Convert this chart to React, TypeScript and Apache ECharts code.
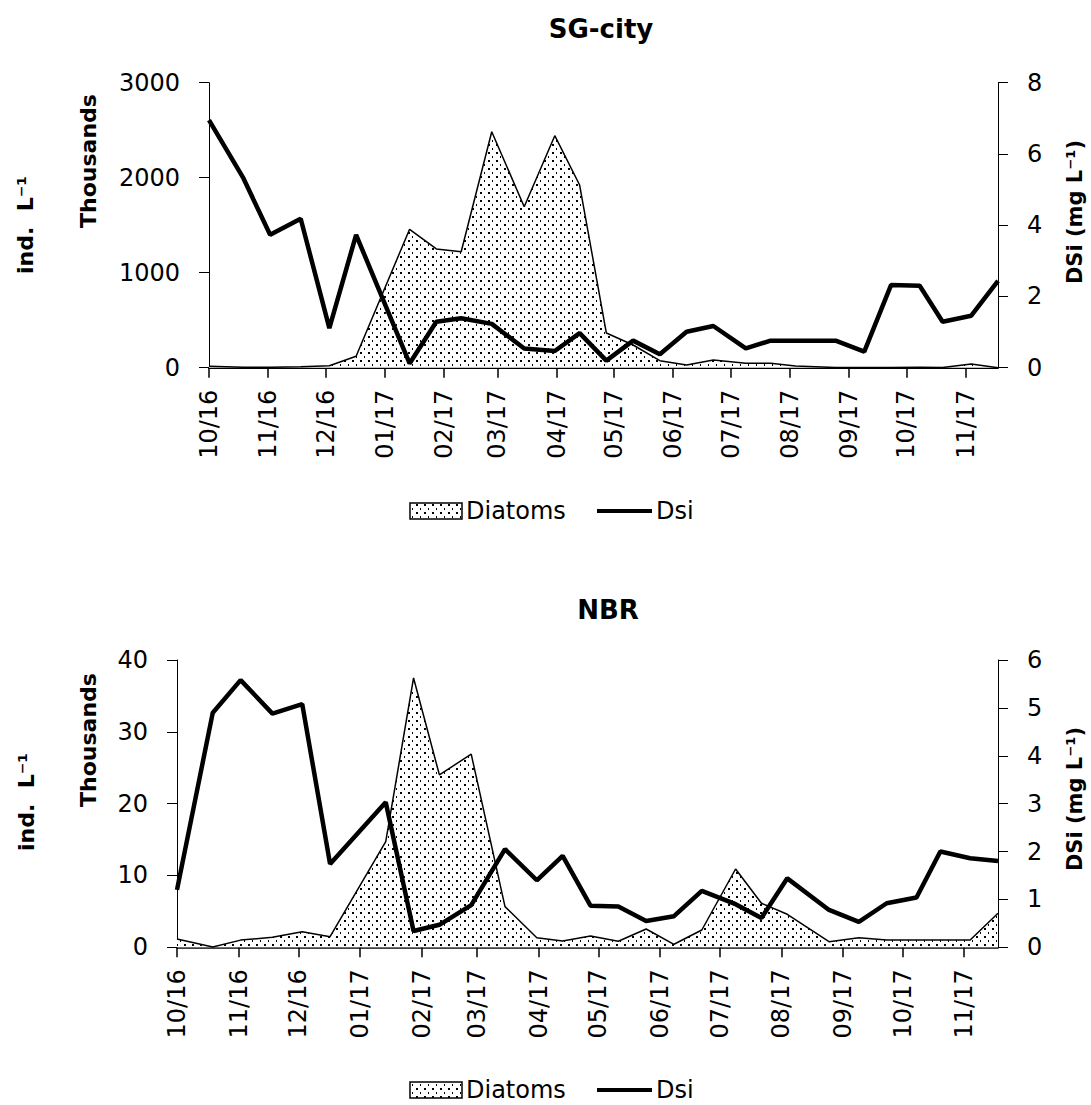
import React, { useEffect, useRef } from 'react';
import * as echarts from 'echarts';

// Sampling dates (shared by both stations)
const sampleDates = [
  '2016-10-01', '2016-10-19', '2016-11-02', '2016-11-18', '2016-12-03', '2016-12-17',
  '2017-01-14', '2017-01-28', '2017-02-10', '2017-02-26', '2017-03-15', '2017-03-31',
  '2017-04-13', '2017-04-27', '2017-05-11', '2017-05-25', '2017-06-08', '2017-06-22',
  '2017-07-09', '2017-07-22', '2017-08-04', '2017-08-25', '2017-09-09', '2017-09-23',
  '2017-10-08', '2017-10-20', '2017-11-04', '2017-11-18',
];

// SG-city: diatoms (thousand ind. L-1) and DSi (mg L-1)
const sgDiatoms = [15, 5, 5, 10, 20, 120, 1457, 1250, 1221, 2484, 1695, 2442, 1923, 365, 239, 74, 28, 81, 46, 46, 18, 3, 2, 2, 5, 3, 39, 0];
const sgDsi = [6.95, 5.32, 3.73, 4.18, 1.11, 3.73, 0.12, 1.29, 1.39, 1.23, 0.54, 0.47, 0.97, 0.2, 0.76, 0.38, 1.01, 1.17, 0.54, 0.76, 0.76, 0.76, 0.45, 2.32, 2.3, 1.29, 1.46, 2.44];

// NBR
const nbrDiatoms = [1.16, 0.05, 1.0, 1.39, 2.17, 1.48, 14.7, 37.5, 24.0, 26.9, 5.66, 1.34, 0.88, 1.57, 0.85, 2.55, 0.42, 2.41, 10.9, 6.13, 4.6, 0.78, 1.34, 1.02, 1.02, 1.02, 1.02, 4.73];
const nbrDsi = [1.2, 4.9, 5.58, 4.88, 5.08, 1.74, 3.03, 0.34, 0.47, 0.88, 2.05, 1.4, 1.91, 0.87, 0.85, 0.55, 0.65, 1.18, 0.9, 0.61, 1.44, 0.78, 0.53, 0.92, 1.04, 2.0, 1.86, 1.8];

// Axis ranges
const sgLeft = { min: 0, max: 3000, interval: 1000 };
const sgRight = { min: 0, max: 8, interval: 2 };
const nbrLeft = { min: 0, max: 40, interval: 10 };
const nbrRight = { min: 0, max: 6, interval: 1 };

const axisStart = '2016-10-01';
const axisEnd = '2017-11-18';

const FONT = '"DejaVu Sans", sans-serif';

function buildDays(start: string, end: string): string[] {
  const out: string[] = [];
  const s = new Date(start + 'T00:00:00Z').getTime();
  const e = new Date(end + 'T00:00:00Z').getTime();
  for (let t = s; t <= e; t += 86400000) {
    out.push(new Date(t).toISOString().slice(0, 10));
  }
  return out;
}

export default function App() {
  const ref = useRef<HTMLDivElement>(null);

  useEffect(() => {
    if (!ref.current) return;
    const chart = echarts.init(ref.current, undefined, { renderer: 'svg' });

    const c = document.createElement('canvas');
    c.width = 8;
    c.height = 8;
    const g = c.getContext('2d')!;
    g.fillStyle = '#fff';
    g.fillRect(0, 0, 8, 8);
    g.fillStyle = '#000';
    g.fillRect(0, 0, 2, 2);
    g.fillRect(4, 4, 1, 2);
    const pattern: any = { image: c.toDataURL(), repeat: 'repeat', imageWidth: 8, imageHeight: 8 };

    const days = buildDays(axisStart, axisEnd);
    const isMonthStart = (_i: number, v: string) => v.slice(8, 10) === '01';

    const makeX = (gridIndex: number, w: number) => ({
      type: 'category',
      gridIndex,
      data: days,
      boundaryGap: false,
      axisLine: { show: true, lineStyle: { color: '#000', width: w } },
      axisTick: { show: true, length: 10, interval: isMonthStart, lineStyle: { color: '#000', width: 1.5 } },
      axisLabel: {
        interval: isMonthStart,
        rotate: 90,
        margin: 22,
        fontSize: 24,
        fontFamily: FONT,
        color: '#000',
        formatter: (v: string) => v.slice(5, 7) + '/' + v.slice(2, 4),
      },
      splitLine: { show: false },
    });

    const makeY = (gridIndex: number, pos: string, r: any) => ({
      type: 'value',
      gridIndex,
      position: pos,
      min: r.min,
      max: r.max,
      interval: r.interval,
      axisLine: { show: true, lineStyle: { color: '#000', width: 1 } },
      axisTick: { show: true, length: 10, lineStyle: { color: '#000', width: 1 } },
      axisLabel: {
        fontSize: 24,
        fontFamily: FONT,
        color: '#000',
        margin: 29,
        formatter: (v: number) => String(v),
      },
      splitLine: { show: false },
    });

    const pairs = (vals: number[]) => sampleDates.map((d, i) => [d, vals[i]]);

    const areaSeries = (name: string, xi: number, yi: number, vals: number[]) => ({
      name,
      type: 'line',
      xAxisIndex: xi,
      yAxisIndex: yi,
      data: pairs(vals),
      symbol: 'none',
      lineStyle: { color: '#000', width: 1.5 },
      areaStyle: { color: pattern, opacity: 1 },
      z: 2,
    });
    const lineSeries = (name: string, xi: number, yi: number, vals: number[]) => ({
      name,
      type: 'line',
      xAxisIndex: xi,
      yAxisIndex: yi,
      data: pairs(vals),
      symbol: 'none',
      lineStyle: { color: '#000', width: 4.5 },
      z: 3,
    });

    const rotText = (text: string, x: number, y: number, size: number) => ({
      type: 'text',
      x,
      y,
      rotation: Math.PI / 2,
      style: {
        text,
        fontSize: size,
        fontWeight: 'bold',
        fontFamily: FONT,
        fill: '#000',
        align: 'center',
        verticalAlign: 'middle',
      },
    });

    const legend = (cy: number) => [
      {
        type: 'rect',
        shape: { x: 410, y: cy - 8, width: 52, height: 16 },
        style: { fill: pattern, stroke: '#000', lineWidth: 1.5 },
      },
      {
        type: 'text',
        x: 466,
        y: cy,
        style: { text: 'Diatoms', fontSize: 24, fontFamily: FONT, fill: '#000', align: 'left', verticalAlign: 'middle' },
      },
      {
        type: 'line',
        shape: { x1: 597, y1: cy, x2: 652, y2: cy },
        style: { stroke: '#000', lineWidth: 4 },
      },
      {
        type: 'text',
        x: 656,
        y: cy,
        style: { text: 'Dsi', fontSize: 24, fontFamily: FONT, fill: '#000', align: 'left', verticalAlign: 'middle' },
      },
    ];

    chart.setOption({
      animation: false,
      backgroundColor: '#fff',
      title: [
        {
          text: 'SG-city',
          left: 601,
          top: 29,
          textAlign: 'center',
          textVerticalAlign: 'middle',
          padding: 0,
          textStyle: { fontSize: 26, fontWeight: 'bold', fontFamily: FONT, color: '#000' },
        },
        {
          text: 'NBR',
          left: 608,
          top: 610,
          textAlign: 'center',
          textVerticalAlign: 'middle',
          padding: 0,
          textStyle: { fontSize: 26, fontWeight: 'bold', fontFamily: FONT, color: '#000' },
        },
      ],
      grid: [
        { left: 209, width: 789, top: 82.7, height: 285, containLabel: false },
        { left: 177, width: 821, top: 660, height: 287.3, containLabel: false },
      ],
      xAxis: [makeX(0, 2), makeX(1, 1.5)],
      yAxis: [
        makeY(0, 'left', sgLeft),
        makeY(0, 'right', sgRight),
        makeY(1, 'left', nbrLeft),
        makeY(1, 'right', nbrRight),
      ],
      series: [
        areaSeries('Diatoms', 0, 0, sgDiatoms),
        lineSeries('Dsi', 0, 1, sgDsi),
        areaSeries('Diatoms', 1, 2, nbrDiatoms),
        lineSeries('Dsi', 1, 3, nbrDsi),
      ],
      graphic: [
        rotText('Thousands', 88, 161, 22),
        rotText('ind.  L⁻¹', 25, 225, 22),
        rotText('DSi (mg L⁻¹)', 1075, 212, 21),
        rotText('Thousands', 88, 740, 22),
        rotText('ind.  L⁻¹', 26, 802, 22),
        rotText('DSi (mg L⁻¹)', 1075, 799, 21),
        ...legend(511),
        ...legend(1090),
      ],
    });

    return () => chart.dispose();
  }, []);

  return (
    <div
      ref={ref}
      style={{ position: 'absolute', left: 0, top: 0, width: 1091, height: 1105 }}
    />
  );
}
